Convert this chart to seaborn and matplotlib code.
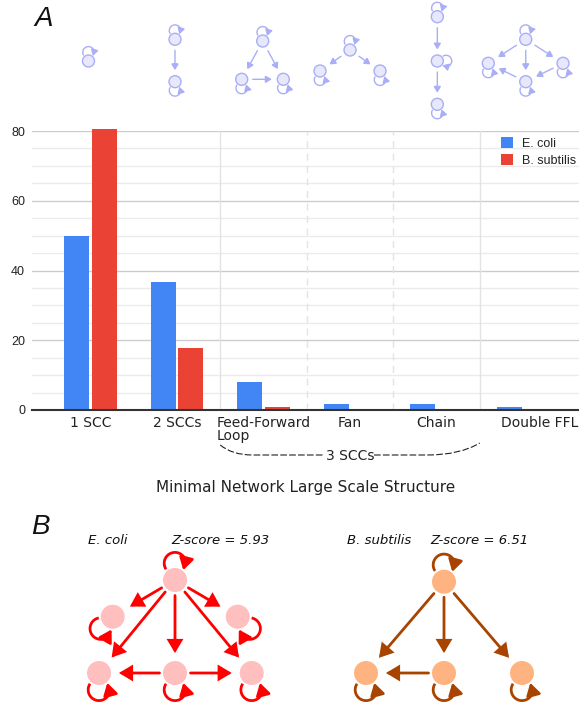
import numpy as np
import pandas as pd
import matplotlib
matplotlib.use("Agg")
import matplotlib.pyplot as plt
import matplotlib.transforms as mtransforms
import seaborn as sns
from matplotlib.patches import FancyArrowPatch, Circle, Patch, PathPatch
from matplotlib.path import Path

# ---------------- data ----------------
categories = ["1 SCC", "2 SCCs", "Feed-Forward\nLoop", "Fan", "Chain", "Double FFL"]
ecoli = [49.8, 36.6, 8.0, 1.8, 1.8, 1.0]
bsub = [80.5, 17.9, 1.0, 0.0, 0.0, 0.0]
species = ["E. coli", "B. subtilis"]
yticks = [0, 20, 40, 60, 80]
group_label = "3 SCCs"
xlabel = "Minimal Network Large Scale Structure"
zscore_labels = ["Z-score = 5.93", "Z-score = 6.51"]

# graph structures (motif pictograms above bars)
motif_edges = [[], [(0, 1)], [(0, 1), (0, 2), (1, 2)], [(0, 1), (0, 2)],
               [(0, 1), (1, 2)], [(0, 1), (0, 2), (0, 3), (2, 3), (3, 1)]]
# panel B graphs
ecoli_edges = [(0, 1), (0, 2), (0, 3), (0, 4), (0, 5), (4, 3), (4, 5)]
bsub_edges = [(0, 1), (0, 2), (0, 3), (2, 1)]

# ---------------- layout / style ----------------
W, H = 579, 704
colors = ["#4285f4", "#ea4335"]
UP, DOWN, RIGHT, DL, DR = (-90, 1), (90, -1), (0, 1), (135, -1), (45, 1)
motif_layout = [
    [(-2, 61)],
    [(-2, 39.3), (-2, 81.7)],
    [(-0.8, 41), (-21.8, 79.3), (19.8, 79.3)],
    [(0, 50), (-30, 71), (30, 71)],
    [(0.8, 16.7), (0.8, 61), (0.8, 104.3)],
    [(2.7, 39.3), (-34.7, 63.3), (40, 63.3), (2.7, 81.7)],
]
motif_loops = [[UP], [UP, DOWN], [UP, DOWN, DOWN], [UP, DOWN, DOWN],
               [UP, RIGHT, DOWN], [UP, DOWN, DOWN, DOWN]]
ecoli_layout = [(175, 580), (112.7, 616.7), (237.7, 616.7), (99, 673), (175, 673), (251.7, 673)]
ecoli_loops = [UP, DL, DR, DOWN, DOWN, DOWN]
bsub_layout = [(444, 581.7), (366, 673), (444, 673), (522, 673)]
bsub_loops = [UP, DOWN, DOWN, DOWN]

sns.set_theme(style="white")
plt.rcParams["font.family"] = ["DejaVu Sans"]

fig = plt.figure(figsize=(W / 100, H / 100), dpi=100)
fig.patch.set_facecolor("white")
ax = fig.add_axes([32 / W, 1 - 410 / H, (579 - 32) / W, (410 - 131) / H])

df = pd.DataFrame({
    "category": categories * 2,
    "value": ecoli + bsub,
    "species": [species[0]] * len(categories) + [species[1]] * len(categories),
})
sns.barplot(data=df, x="category", y="value", hue="species", order=categories,
            hue_order=species, palette=dict(zip(species, colors)), width=0.64,
            gap=0.09, linewidth=0, saturation=1, legend=False, ax=ax, zorder=3)
for p in ax.patches:
    p.set_clip_on(False)

ax.set_xlim(-0.676, 5.647)
ax.set_ylim(0, 80)
ax.set_yticks(yticks)
ax.set_yticks(np.arange(0, 81, 5), minor=True)
ax.grid(axis="y", which="major", color="#cccccc", lw=1.0, zorder=0)
ax.grid(axis="y", which="minor", color="#ebebeb", lw=1.0, zorder=0)
ax.grid(axis="x", visible=False)
ax.set_axisbelow(True)
for s in ["left", "right", "top"]:
    ax.spines[s].set_visible(False)
ax.spines["bottom"].set_color("#333333")
ax.spines["bottom"].set_linewidth(1.5)
ax.spines["bottom"].set_zorder(4)
ax.tick_params(axis="both", which="both", length=0)
ax.tick_params(axis="y", pad=5, labelsize=9, labelcolor="#222222")
ax.tick_params(axis="x", pad=4, labelsize=10, labelcolor="#222222")
for lbl in ax.get_yticklabels():
    lbl.set_fontfamily("Liberation Sans")
xt = ax.get_xticklabels()
for lbl in xt:
    lbl.set_multialignment("left")
    lbl.set_linespacing(0.95)
# last label sits slightly right of its bars in the reference
xt[-1].set_transform(xt[-1].get_transform() +
                     mtransforms.ScaledTranslation(0.17, 0, fig.dpi_scale_trans))
ax.set_ylabel("")
ax.set_xlabel(xlabel, fontsize=11, color="#222222")
ax.xaxis.set_label_coords(0.5, -0.25)

for xb, ls in [(1.5, "-"), (2.5, (0, (5, 4))), (3.5, (0, (5, 4))), (4.5, "-")]:
    ax.axvline(xb, color="#e3e3e3", lw=1.0, ls=ls, zorder=1)

leg = ax.legend(handles=[Patch(facecolor=c, edgecolor="none") for c in colors],
                labels=species, loc="upper left", bbox_to_anchor=(501 / W, 1 - 137 / H),
                bbox_transform=fig.transFigure, frameon=False, borderpad=0,
                borderaxespad=0, handlelength=0.95, handleheight=0.95,
                handletextpad=0.7, labelspacing=0.38,
                prop={"family": "Liberation Sans", "size": 9})
for t in leg.get_texts():
    t.set_color("#222222")

# ---------------- overlay in pixel coordinates ----------------
ov = fig.add_axes([0, 0, 1, 1], zorder=5)
ov.set_xlim(0, W)
ov.set_ylim(H, 0)
ov.axis("off")
ov.patch.set_alpha(0)

cx = [ax.transData.transform((i, 0))[0] for i in range(len(categories))]
STYLE = "-|>,head_length=0.45,head_width=0.27"


def u(a):
    a = np.deg2rad(a)
    return np.array([np.cos(a), np.sin(a)])


def draw_graph(nodes, edges, loops, r, fc, ec, ecol, lw, ms, gapA, gapB, nlw=0,
               loop_d=1.4, loop_r=0.9):
    for i, j in edges:
        p, q = np.array(nodes[i], float), np.array(nodes[j], float)
        d = (q - p) / np.hypot(*(q - p))
        a, b = p + d * (r + gapA), q - d * (r + gapB)
        ov.add_patch(FancyArrowPatch(a, b, arrowstyle=STYLE, mutation_scale=ms,
                                     color=ecol, lw=lw, shrinkA=0, shrinkB=0,
                                     zorder=2, joinstyle="miter"))
    hl = 0.45 * ms * 100 / 72.0  # head length in px
    for k, (ang, s) in enumerate(loops):
        c = np.array(nodes[k], float)
        lc = c + loop_d * r * u(ang)
        rl = loop_r * r
        beta = 48
        t0 = ang + 180 + s * (beta + 8)
        t1 = ang + 180 + s * (360 - beta - 2)
        dth = np.rad2deg(hl / rl) * 0.95
        t = np.deg2rad(np.linspace(t0, t1 - s * dth, 60))
        pts = lc[None, :] + rl * np.stack([np.cos(t), np.sin(t)], 1)
        ov.plot(pts[:, 0], pts[:, 1], color=ecol, lw=lw, solid_capstyle="butt", zorder=2)
        end = lc + rl * u(t1)
        ov.add_patch(FancyArrowPatch(pts[-1], end, arrowstyle=STYLE, mutation_scale=ms,
                                     color=ecol, lw=lw, shrinkA=0, shrinkB=0, zorder=2))
    for (x, y) in nodes:
        ov.add_patch(Circle((x, y), r, fc=fc, ec=ec, lw=nlw, zorder=3))


# motif pictograms
for i, (lay, ed, lp) in enumerate(zip(motif_layout, motif_edges, motif_loops)):
    nodes = [(cx[i] + dx, y) for dx, y in lay]
    draw_graph(nodes, ed, lp, r=6, fc="#e7e8fb", ec="#a9aef6", ecol="#a9aef6",
               lw=1.0, ms=8, gapA=5, gapB=5.5, nlw=1.0, loop_d=1.45, loop_r=0.95)

# bracket "3 SCCs"
xl = ax.transData.transform((1.5, 0))[0]
xr = ax.transData.transform((4.5, 0))[0]
xm = ax.transData.transform((3.0, 0))[0]
bl = Path([(xl, 445), (xl + 12, 455), (xl + 32, 455), (xm - 26, 455)],
          [Path.MOVETO, Path.CURVE3, Path.CURVE3, Path.LINETO])
br = Path([(xm + 24, 455), (xr - 52, 455), (xr - 20, 455), (xr, 443)],
          [Path.MOVETO, Path.LINETO, Path.CURVE3, Path.CURVE3])
for pth in (bl, br):
    ov.add_patch(PathPatch(pth, fc="none", ec="#222222", lw=0.8, ls=(0, (6, 2))))
ov.text(xm, 455.5, group_label, ha="center", va="center", fontsize=10, color="#222222")

# panel labels
ov.text(34, 26, "A", fontsize=20, style="italic", family="Liberation Sans",
        color="#111111", va="baseline")
ov.text(31, 534, "B", fontsize=20, style="italic", family="Liberation Sans",
        color="#111111", va="baseline")

# panel B
ov.text(88, 544, species[0], style="italic", fontsize=9.5, color="#111111", va="baseline")
ov.text(171, 544, zscore_labels[0], style="italic", fontsize=9.5, color="#111111", va="baseline")
ov.text(347, 544, species[1], style="italic", fontsize=9.5, color="#111111", va="baseline")
ov.text(430, 544, zscore_labels[1], style="italic", fontsize=9.5, color="#111111", va="baseline")

draw_graph(ecoli_layout, ecoli_edges, ecoli_loops, r=12, fc="#ffbfbf", ec="none",
           ecol="#ff0000", lw=2.0, ms=16, gapA=3.5, gapB=8)
draw_graph(bsub_layout, bsub_edges, bsub_loops, r=12, fc="#ffb380", ec="none",
           ecol="#a84300", lw=2.0, ms=16, gapA=3.5, gapB=8)

fig.savefig("out.png", dpi=100, facecolor="white")
